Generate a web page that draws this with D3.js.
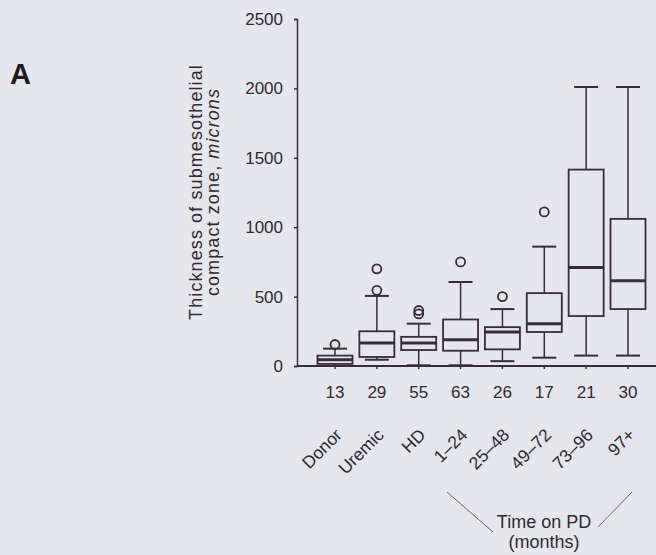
<!DOCTYPE html>
<html>
<head>
<meta charset="utf-8">
<script src="https://cdn.jsdelivr.net/npm/d3@7"></script>
<style>
  body { margin: 0; background: #e6e6ee; }
  svg { display: block; font-family: "Liberation Sans", Arial, sans-serif; }
</style>
</head>
<body>
<div id="chart"></div>
<script>
// Groups along the x axis and their sample sizes
var categories = ["Donor", "Uremic", "HD", "1\u201324", "25\u201348", "49\u201372", "73\u201396", "97+"];
var counts = [13, 29, 55, 63, 26, 17, 21, 30];

// Box plot statistics (microns)
var whiskerLow  = [0, 45, 5, 5, 35, 60, 75, 75];
var q1          = [15, 65, 115, 110, 120, 245, 360, 410];
var median      = [45, 165, 165, 190, 245, 305, 710, 615];
var q3          = [75, 250, 210, 335, 280, 525, 1415, 1060];
var whiskerHigh = [125, 505, 305, 605, 410, 860, 2010, 2010];
var outliers    = [[155], [545, 700], [375, 400], [750], [500], [1110], [], []];

var yTicks = [0, 500, 1000, 1500, 2000, 2500];

var width = 656, height = 555;
var ink = "#3a2c36";
var textCol = "#2e2a30";

var svg = d3.select("#chart").append("svg").attr("width", width).attr("height", height);

var x = d3.scalePoint().domain(categories).range([335, 628]);
var y = d3.scaleLinear().domain([0, 2500]).range([366, 19]);

// Y axis
var yAxis = svg.append("g")
    .attr("transform", "translate(297,0)")
    .call(d3.axisLeft(y).tickValues(yTicks).tickFormat(d3.format("d")).tickSize(3).tickPadding(11));
yAxis.select(".domain").attr("stroke", ink).attr("stroke-width", 1.5);
yAxis.selectAll(".tick line").attr("stroke", ink).attr("stroke-width", 1.5);
yAxis.selectAll("text").attr("fill", textCol).style("font-size", "17px");

// X axis line runs to the right edge
svg.append("line")
    .attr("x1", 297).attr("x2", width)
    .attr("y1", y(0)).attr("y2", y(0))
    .attr("stroke", ink).attr("stroke-width", 2);

svg.append("g").selectAll("line")
    .data(categories)
    .enter().append("line")
    .attr("x1", function(d) { return x(d); })
    .attr("x2", function(d) { return x(d); })
    .attr("y1", y(0)).attr("y2", y(0) + 3)
    .attr("stroke", ink).attr("stroke-width", 1.5);

// Boxes
var boxW = 35, capW = 24;
var box = svg.append("g").selectAll("g")
    .data(categories)
    .enter().append("g")
    .attr("transform", function(d) { return "translate(" + x(d) + ",0)"; });

// whiskers
box.append("line")
    .attr("x1", 0).attr("x2", 0)
    .attr("y1", function(d, i) { return y(whiskerHigh[i]); })
    .attr("y2", function(d, i) { return y(q3[i]); })
    .attr("stroke", ink).attr("stroke-width", 1.5);
box.append("line")
    .attr("x1", 0).attr("x2", 0)
    .attr("y1", function(d, i) { return y(q1[i]); })
    .attr("y2", function(d, i) { return y(whiskerLow[i]); })
    .attr("stroke", ink).attr("stroke-width", 1.5);

// caps
box.append("line")
    .attr("x1", -capW / 2).attr("x2", capW / 2)
    .attr("y1", function(d, i) { return y(whiskerHigh[i]); })
    .attr("y2", function(d, i) { return y(whiskerHigh[i]); })
    .attr("stroke", ink).attr("stroke-width", 2);
box.append("line")
    .attr("x1", -capW / 2).attr("x2", capW / 2)
    .attr("y1", function(d, i) { return y(whiskerLow[i]); })
    .attr("y2", function(d, i) { return y(whiskerLow[i]); })
    .attr("stroke", ink).attr("stroke-width", 2);

box.append("rect")
    .attr("x", -boxW / 2).attr("width", boxW)
    .attr("y", function(d, i) { return y(q3[i]); })
    .attr("height", function(d, i) { return y(q1[i]) - y(q3[i]); })
    .attr("fill", "none")
    .attr("stroke", ink).attr("stroke-width", 1.8);

box.append("line")
    .attr("x1", -boxW / 2).attr("x2", boxW / 2)
    .attr("y1", function(d, i) { return y(median[i]); })
    .attr("y2", function(d, i) { return y(median[i]); })
    .attr("stroke", ink).attr("stroke-width", 3);

box.selectAll("circle")
    .data(function(d, i) { return outliers[i]; })
    .enter().append("circle")
    .attr("cx", 0)
    .attr("cy", function(v) { return y(v); })
    .attr("r", 4.5)
    .attr("fill", "none")
    .attr("stroke", ink).attr("stroke-width", 1.8);

// Sample sizes
svg.append("g").selectAll("text")
    .data(counts)
    .enter().append("text")
    .attr("x", function(d, i) { return x(categories[i]); })
    .attr("y", 398)
    .attr("text-anchor", "middle")
    .attr("fill", textCol)
    .style("font-size", "17px")
    .text(function(d) { return d; });

// Rotated group labels
svg.append("g").selectAll("text")
    .data(categories)
    .enter().append("text")
    .attr("transform", function(d) { return "translate(" + (x(d) + 8) + ",436) rotate(-45)"; })
    .attr("text-anchor", "end")
    .attr("fill", textCol)
    .style("font-size", "17.5px")
    .text(function(d) { return d; });

// Y axis title
var title = svg.append("text")
    .attr("transform", "translate(202,192) rotate(-90)")
    .attr("text-anchor", "middle")
    .attr("fill", textCol)
    .style("font-size", "18px")
    .style("letter-spacing", "1.1px");
title.append("tspan").attr("x", 0).attr("dy", 0).text("Thickness of submesothelial");
var line2 = title.append("tspan").attr("x", 0).attr("dy", 17);
line2.append("tspan").text("compact zone, ");
line2.append("tspan").style("font-style", "italic").text("microns");

// Panel letter
svg.append("text")
    .attr("x", 10).attr("y", 84)
    .attr("fill", "#1e1a1e")
    .style("font-size", "29px").style("font-weight", "bold")
    .text("A");

// Time on PD bracket
svg.append("line")
    .attr("x1", 447).attr("y1", 492).attr("x2", 493).attr("y2", 532)
    .attr("stroke", "#6a6470").attr("stroke-width", 1);
svg.append("line")
    .attr("x1", 598).attr("y1", 527).attr("x2", 632).attr("y2", 492)
    .attr("stroke", "#6a6470").attr("stroke-width", 1);
svg.append("text")
    .attr("x", 544).attr("y", 528)
    .attr("text-anchor", "middle").attr("fill", textCol)
    .style("font-size", "18px")
    .text("Time on PD");
svg.append("text")
    .attr("x", 544).attr("y", 548)
    .attr("text-anchor", "middle").attr("fill", textCol)
    .style("font-size", "18px")
    .text("(months)");
</script>
</body>
</html>
